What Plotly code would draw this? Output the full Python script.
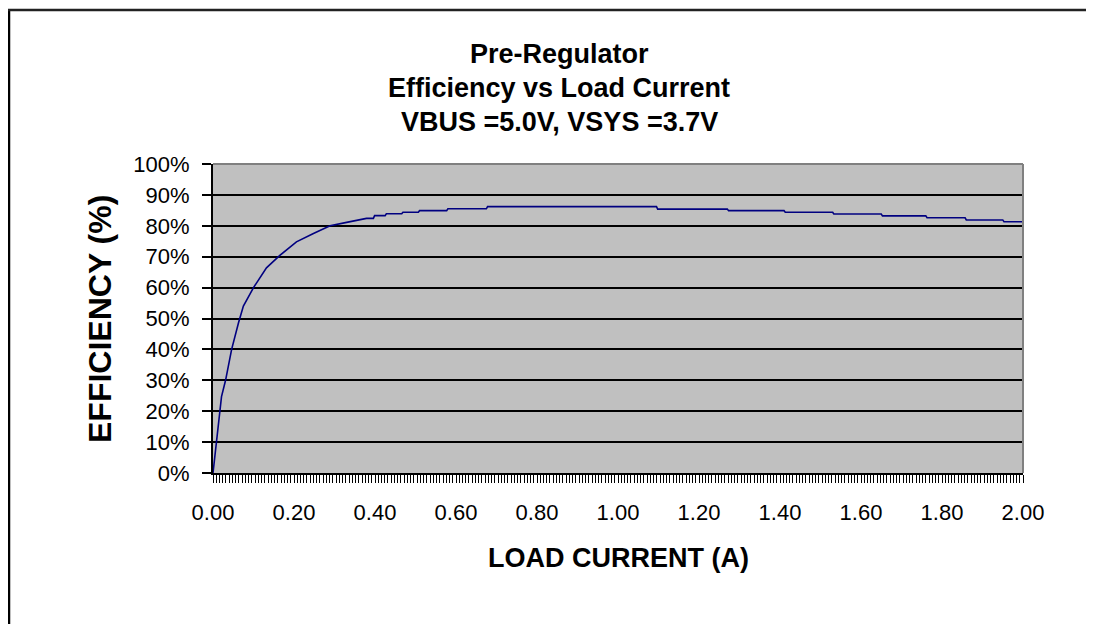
import plotly.graph_objects as go

# Data
load_current = [0.000, 0.017, 0.021, 0.031, 0.046, 0.063, 0.075, 0.100, 0.132, 0.165,
                0.206, 0.248, 0.289, 0.330, 0.379, 0.396, 0.399, 0.425, 0.428, 0.466,
                0.469, 0.507, 0.510, 0.577, 0.580, 0.675, 0.678, 1.095, 1.098, 1.270,
                1.273, 1.410, 1.413, 1.530, 1.533, 1.650, 1.653, 1.760, 1.763, 1.857,
                1.860, 1.950, 1.953, 2.000]
efficiency = [0.0, 20.4, 24.7, 30.0, 40.0, 48.6, 54.0, 60.0, 66.4, 70.4,
              74.8, 77.5, 80.0, 81.1, 82.4, 82.4, 83.3, 83.3, 83.9, 83.9,
              84.4, 84.4, 84.9, 84.9, 85.5, 85.5, 86.2, 86.2, 85.4, 85.4,
              84.9, 84.9, 84.4, 84.4, 83.8, 83.8, 83.2, 83.2, 82.6, 82.6,
              81.9, 81.9, 81.3, 81.3]

title_lines = ["Pre-Regulator", "Efficiency vs Load Current", "VBUS =5.0V, VSYS =3.7V"]
x_title = "LOAD CURRENT (A)"
y_title = "EFFICIENCY (%)"

OFF = 8  # page offset of the figure (body margin)
W, H = 1096 - 2 * OFF, 633 - 2 * OFF
# plot area in page pixels, converted to figure pixels
L, R, T, B = 213 - OFF, 1023 - OFF, 164 - OFF, 473 - OFF


def px(x_page):
    return (x_page - OFF - L) / (R - L)


def py(y_page):
    return (B - (y_page - OFF)) / (B - T)


FONT = "Liberation Sans, Arial, sans-serif"

fig = go.Figure()
fig.add_trace(go.Scatter(x=load_current, y=efficiency, mode="lines",
                         line=dict(color="#000080", width=1.6), showlegend=False,
                         hoverinfo="skip"))

fig.update_layout(
    width=W, height=H,
    margin=dict(l=L, r=W - R, t=T, b=H - B, autoexpand=False),
    paper_bgcolor="white",
    plot_bgcolor="#C0C0C0",
    font=dict(family=FONT, color="black", size=22),
    xaxis=dict(range=[0, 2], dtick=0.2, tick0=0, tickformat=".2f",
               showgrid=False, zeroline=False,
               showline=True, linecolor="black", linewidth=2,
               ticks="outside", ticklen=8, tickwidth=1, tickcolor="black",
               ticklabelstandoff=11,
               minor=dict(dtick=0.008, ticks="outside", ticklen=8, tickwidth=1,
                          tickcolor="black", showgrid=False),
               tickfont=dict(size=22)),
    yaxis=dict(range=[0, 100], dtick=10, tick0=0, ticksuffix="%",
               showgrid=True, gridcolor="black", gridwidth=1.5,
               zeroline=False, showline=True, linecolor="black", linewidth=2,
               ticks="outside", ticklen=9, tickwidth=1.5, tickcolor="black",
               ticklabelstandoff=8,
               tickfont=dict(size=22)),
)

# plot-area border (top and right in grey)
fig.add_shape(type="line", xref="paper", yref="paper", x0=0, x1=1, y0=1, y1=1,
              line=dict(color="#808080", width=2))
fig.add_shape(type="line", xref="paper", yref="paper", x0=1, x1=1, y0=0, y1=1,
              line=dict(color="#808080", width=2))

# outer chart frame: only its left and top edges are visible
fig.add_shape(type="line", xref="paper", yref="paper",
              x0=px(9), x1=px(9), y0=py(9), y1=py(624),
              line=dict(color="black", width=2.5), layer="below")
fig.add_shape(type="line", xref="paper", yref="paper",
              x0=px(8), x1=px(1086), y0=py(10), y1=py(10),
              line=dict(color="#222222", width=2.5), layer="below")

# titles
for text, ycen in zip(title_lines, [54, 88, 122]):
    fig.add_annotation(text=f"<b>{text}</b>", xref="paper", yref="paper",
                       x=px(559), y=py(ycen), xanchor="center", yanchor="middle",
                       showarrow=False, font=dict(size=27, family=FONT))

fig.add_annotation(text=f"<b>{x_title}</b>", xref="paper", yref="paper",
                   x=px(618), y=py(558), xanchor="center", yanchor="middle",
                   showarrow=False, font=dict(size=27, family=FONT))
fig.add_annotation(text=f"<b>{y_title}</b>", xref="paper", yref="paper",
                   x=px(100), y=py(319), xanchor="center", yanchor="middle",
                   textangle=-90, showarrow=False, font=dict(size=32, family=FONT))

fig.write_html("out.html")
